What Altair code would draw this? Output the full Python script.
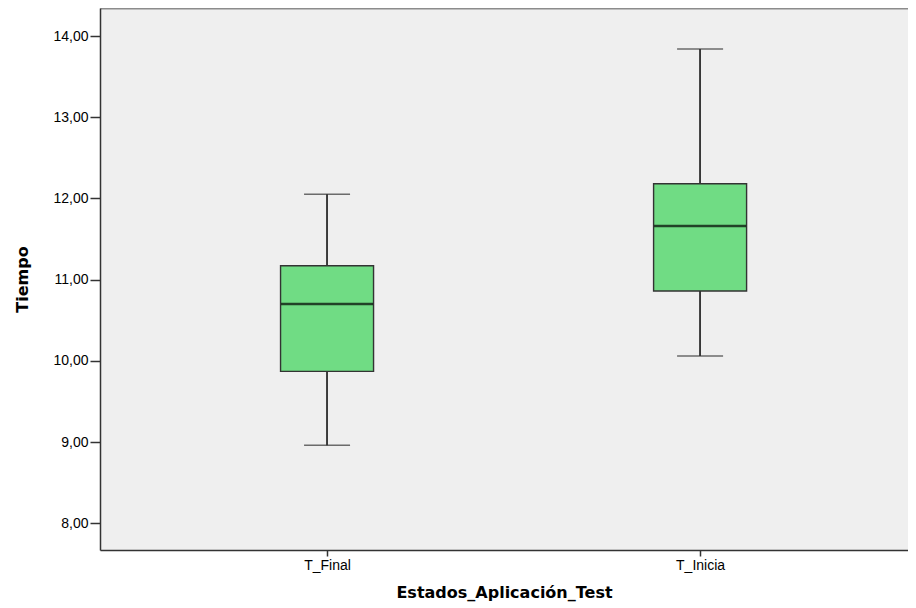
import altair as alt
import pandas as pd

categories = ["T_Final", "T_Inicia"]
lower_whisker = [8.96, 10.06]
q1 = [9.87, 10.86]
median = [10.70, 11.66]
q3 = [11.17, 12.18]
upper_whisker = [12.05, 13.84]

df = pd.DataFrame({
    "cat": categories,
    "low": lower_whisker,
    "q1": q1,
    "med": median,
    "q3": q3,
    "high": upper_whisker,
})

FONT = "Liberation Sans"
TFONT = "DejaVu Sans"

x_scale = alt.Scale(type="point", padding=0.583, align=0.522)
x_axis_enc = alt.X(
    "cat:N",
    title="Estados_Aplicación_Test",
    scale=x_scale,
    axis=alt.Axis(
        orient="bottom",
        labelAngle=0, labelFont=FONT, labelFontSize=14, labelColor="#000",
        tickSize=6, tickColor="#333", tickWidth=1.5, labelPadding=2,
        domainColor="#333", domainWidth=1.5,
        titleFont=TFONT, titleFontSize=16, titleFontWeight="bold",
        titleColor="#000", titlePadding=12,
    ),
)
x_top = alt.X(
    "cat:N", scale=x_scale,
    axis=alt.Axis(orient="top", labels=False, ticks=False, title=None,
                  domainColor="#8c8c8c", domainWidth=2),
)
x_plain = alt.X("cat:N", scale=x_scale, axis=None)

y_scale = alt.Scale(domain=[7.67, 14.345], nice=False, zero=False)
y_axis = alt.Axis(
    values=[8, 9, 10, 11, 12, 13, 14],
    labelExpr="replace(format(datum.value, '.2f'), '.', ',')",
    labelFont=FONT, labelFontSize=14, labelColor="#000",
    tickSize=10, tickColor="#333", tickWidth=1.5, labelPadding=2,
    domainColor="#333", domainWidth=1.5, grid=False,
    titleFont=TFONT, titleFontSize=16, titleFontWeight="bold",
    titleColor="#000", titlePadding=22,
)

base = alt.Chart(df)

top_border = base.mark_rule(color="#333", strokeWidth=1.5).encode(
    x=x_top,
    y=alt.Y("low:Q", title="Tiempo", scale=y_scale, axis=y_axis),
    y2="high:Q",
)
whisker = base.mark_rule(color="#333", strokeWidth=1.5).encode(
    x=x_axis_enc,
    y=alt.Y("low:Q", scale=y_scale),
    y2="high:Q",
)
caps_low = base.mark_tick(color="#333", size=46, thickness=1.5).encode(
    x=x_plain, y=alt.Y("low:Q", scale=y_scale)
)
caps_high = base.mark_tick(color="#333", size=46, thickness=1.5).encode(
    x=x_plain, y=alt.Y("high:Q", scale=y_scale)
)
box = base.mark_bar(size=93, color="#70DC84", stroke="#333", strokeWidth=1.4).encode(
    x=x_plain, y=alt.Y("q1:Q", scale=y_scale), y2="q3:Q"
)
med = base.mark_tick(color="#000", size=92, thickness=2.5).encode(
    x=x_plain, y=alt.Y("med:Q", scale=y_scale)
)

chart = (
    alt.layer(top_border, whisker, box, med, caps_low, caps_high)
    .resolve_axis(x="independent")
    .properties(
        width=808, height=542,
        autosize=alt.AutoSizeParams(type="none"),
        padding={"left": 92, "top": 0, "right": 0, "bottom": 56},
        view=alt.ViewBackground(fill="#EFEFEF", stroke=None),
    )
    .configure(background="white")
)

chart.save("out.html", embed_options={"renderer": "svg", "actions": False})
